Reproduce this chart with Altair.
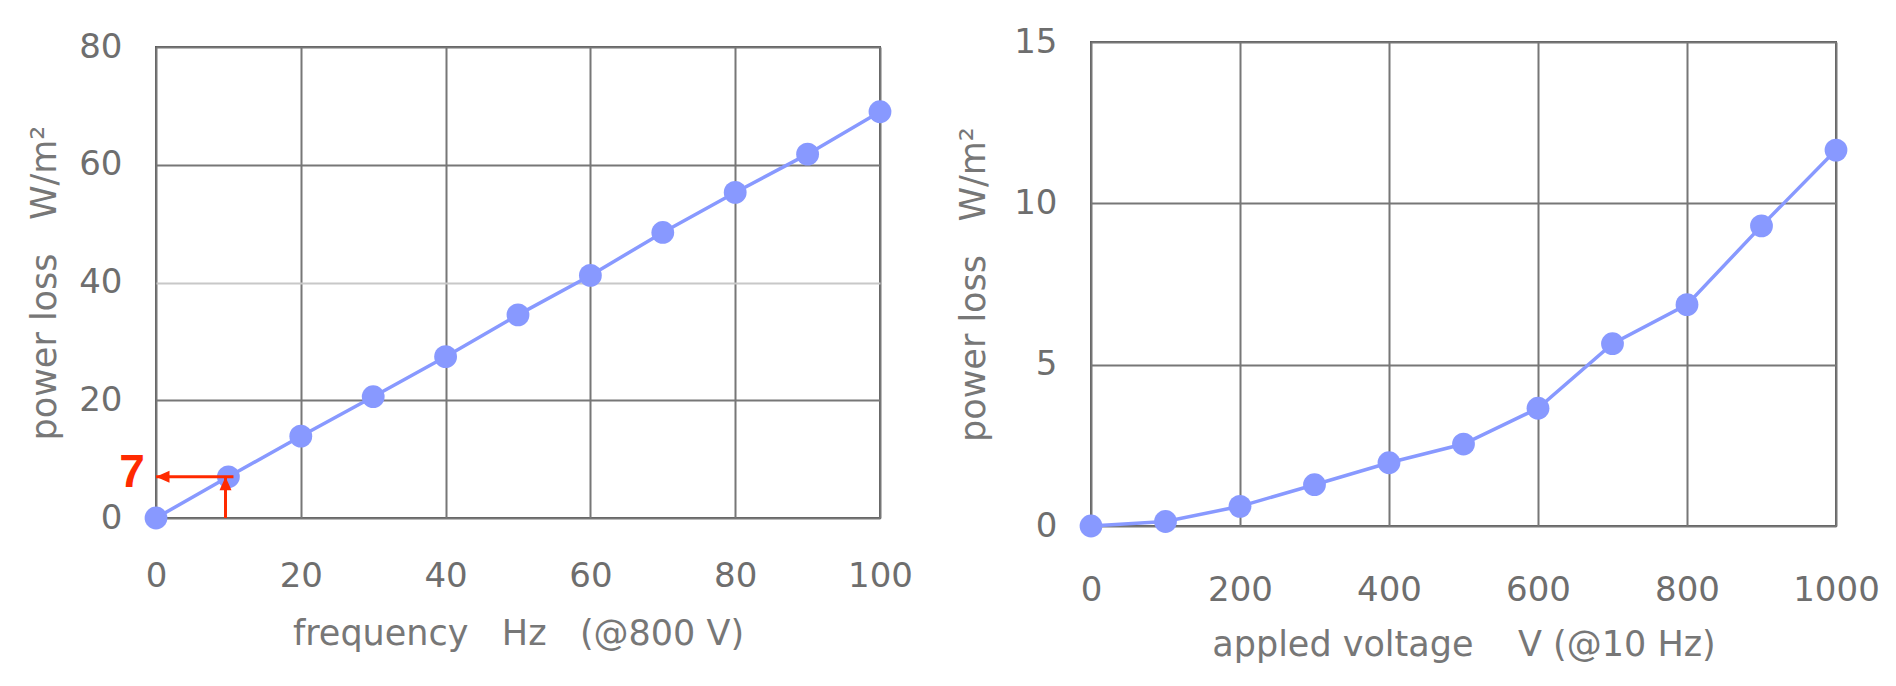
import altair as alt
import pandas as pd

# ---- data ----
freq = [0, 10, 20, 30, 40, 50, 60, 70, 80, 90, 100]
loss_freq = [0, 7.0, 13.9, 20.6, 27.4, 34.5, 41.2, 48.5, 55.3, 61.8, 69.0]

volt = [0, 100, 200, 300, 400, 500, 600, 700, 800, 900, 1000]
loss_volt = [0, 0.14, 0.61, 1.28, 1.96, 2.54, 3.65, 5.65, 6.86, 9.3, 11.65]

freq_ticks = [0, 20, 40, 60, 80, 100]
freq_loss_ticks = [0, 20, 40, 60, 80]
volt_ticks = [0, 200, 400, 600, 800, 1000]
volt_loss_ticks = [0, 5, 10, 15]

# annotation: reading of the 10 Hz point (7 W/m2)
anno_label = ["7"]
anno_x0 = [0]
anno_x1 = [10.7]
anno_xv = [9.6]
anno_y0 = [0]
anno_y = [7]

NB = "\u00a0"
title_freq = f"frequency{NB*3}Hz{NB*3}(@800 V)"
title_volt = f"appled voltage{NB*4}V (@10 Hz)"
title_loss = f"power loss{NB*3}W/m\u00b2"

FONT = "DejaVu Sans"
BLUE = "#8899ff"
RED = "#ff2a00"
LBL = "#6e6e6e"
GRID = "#777777"

df_f = pd.DataFrame({"x": freq, "y": loss_freq})
df_v = pd.DataFrame({"x": volt, "y": loss_volt})
df_h = pd.DataFrame({"x": anno_x0, "x2": anno_x1, "y": anno_y})
df_vert = pd.DataFrame({"x": anno_xv, "y": anno_y0, "y2": anno_y})
df_tipL = pd.DataFrame({"x": anno_x0, "y": anno_y})
df_tipU = pd.DataFrame({"x": anno_xv, "y": anno_y})
df_txt = pd.DataFrame({"x": anno_x0, "y": anno_y, "t": anno_label})


def panel(df, xdom, xticks, ydom, yticks, xtitle, xlabpad, xtitlepad, ytitlepad, ygrid_cond=None):
    yaxis_kw = dict(values=yticks, title=title_loss, labelPadding=34, titlePadding=ytitlepad)
    if ygrid_cond is not None:
        yaxis_kw["gridColor"] = {"condition": {"test": f"datum.value === {ygrid_cond}", "value": "#c8c8c8"},
                                 "value": GRID}
    x = alt.X("x:Q", scale=alt.Scale(domain=xdom, nice=False),
              axis=alt.Axis(values=xticks, title=xtitle, labelPadding=xlabpad, titlePadding=xtitlepad,
                            labelFlush=False, format="d"))
    y = alt.Y("y:Q", scale=alt.Scale(domain=ydom, nice=False), axis=alt.Axis(**yaxis_kw))
    base = alt.Chart(df).encode(x=x, y=y)
    line = base.mark_line(color=BLUE, strokeWidth=3.5)
    pts = base.mark_circle(color=BLUE, size=520, opacity=1)
    return line, pts


def spacer(w, h):
    # empty, invisible block used only to offset a panel vertically
    return alt.Chart(pd.DataFrame({"s": [0]})).mark_point(opacity=0, size=1).properties(
        width=w, height=h, view=alt.ViewBackground(strokeOpacity=0, strokeWidth=0)
    )


l_line, l_pts = panel(df_f, [0, 100], freq_ticks, [0, 80], freq_loss_ticks, title_freq, 41, 23, 16,
                      ygrid_cond=40)

hrule = alt.Chart(df_h).mark_rule(color=RED, strokeWidth=3).encode(x="x:Q", x2="x2:Q", y="y:Q")
vrule = alt.Chart(df_vert).mark_rule(color=RED, strokeWidth=3).encode(x="x:Q", y="y:Q", y2="y2:Q")
tipL = alt.Chart(df_tipL).mark_point(shape="M0,0L1.35,-0.6L1.35,0.6Z", filled=True, size=400,
                                       color=RED, opacity=1, strokeWidth=0).encode(x="x:Q", y="y:Q")
tipU = alt.Chart(df_tipU).mark_point(shape="M0,0L-0.6,1.35L0.6,1.35Z", filled=True, size=400,
                                       color=RED, opacity=1, strokeWidth=0).encode(x="x:Q", y="y:Q")
txt = alt.Chart(df_txt).mark_text(color=RED, fontSize=46, fontWeight="bold",
                                  font="Liberation Sans Narrow, Liberation Sans", dx=-24, dy=-4,
                                  baseline="middle", align="center").encode(x="x:Q", y="y:Q", text="t:N")

left_plot = alt.layer(l_line, l_pts, hrule, vrule, tipL, tipU, txt).properties(width=724, height=471)
left = alt.vconcat(spacer(724, 6), left_plot, spacing=0)

r_line, r_pts = panel(df_v, [0, 1000], volt_ticks, [0, 15], volt_loss_ticks, title_volt, 47, 20, 22)
right_plot = alt.layer(r_line, r_pts).properties(width=745, height=484)
right = alt.vconcat(spacer(745, 1), right_plot, spacing=0)

chart = alt.hconcat(left, right, spacing=41).properties(
    padding={"left": 18, "top": 15, "right": 0, "bottom": 0},
    background="white",
).configure_axis(
    labelFont=FONT, labelFontSize=34, labelColor=LBL,
    titleFont=FONT, titleFontSize=35, titleColor="#777777", titleFontWeight="normal",
    ticks=False, domain=False, grid=True, gridColor=GRID, gridWidth=2,
).configure_view(
    stroke="#5a5a5a", strokeWidth=2,
)

chart.save("out.html", embed_options={"renderer": "svg", "actions": False})
